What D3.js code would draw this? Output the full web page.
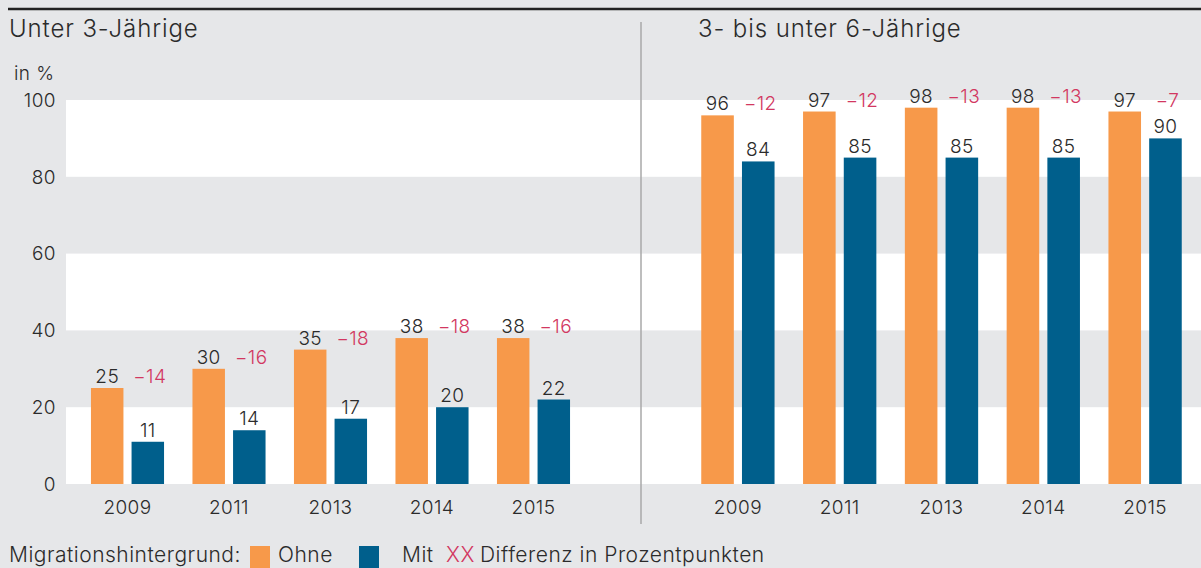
<!DOCTYPE html>
<html>
<head>
<meta charset="utf-8">
<script src="https://cdn.jsdelivr.net/npm/d3@7"></script>
<style>
  body { margin: 0; background: #e6e7e9; }
  svg { display: block; font-family: Inter, "Noto Sans", sans-serif; font-weight: 300; letter-spacing: 0.4px; }
</style>
</head>
<body>
<svg width="1201" height="568"></svg>
<script>
// data
var years = ["2009", "2011", "2013", "2014", "2015"];
var under3Ohne = [25, 30, 35, 38, 38];
var under3Mit = [11, 14, 17, 20, 22];
var under3Diff = [-14, -16, -18, -18, -16];
var over3Ohne = [96, 97, 98, 98, 97];
var over3Mit = [84, 85, 85, 85, 90];
var over3Diff = [-12, -12, -13, -13, -7];
var yTicks = [0, 20, 40, 60, 80, 100];

var orange = "#f7994a", blue = "#005f8c", red = "#d23761", textCol = "#2b2b2b";
var fs = 19;

var svg = d3.select("svg");

var y = d3.scaleLinear().domain([0, 100]).range([484, 100]);

// white bands
svg.selectAll(".band")
  .data([[0, 20], [40, 60], [80, 100]])
  .enter().append("rect")
    .attr("x", 66)
    .attr("width", 1201 - 66)
    .attr("y", d => y(d[1]))
    .attr("height", d => y(d[0]) - y(d[1]))
    .attr("fill", "#fff");

// top rule
svg.append("line")
  .attr("x1", 8).attr("x2", 1201).attr("y1", 9).attr("y2", 9)
  .attr("stroke", "#222").attr("stroke-width", 2.5);

// divider
svg.append("line")
  .attr("x1", 641).attr("x2", 641).attr("y1", 22).attr("y2", 524)
  .attr("stroke", "#a8a8a8").attr("stroke-width", 1.5);

// y tick labels
svg.selectAll(".ytick")
  .data(yTicks)
  .enter().append("text")
    .attr("x", 56)
    .attr("y", d => y(d))
    .attr("dy", "0.36em")
    .attr("text-anchor", "end")
    .attr("font-size", fs)
    .attr("fill", textCol)
    .text(d => d);

svg.append("text")
  .attr("x", 14).attr("y", 80)
  .attr("font-size", fs).attr("fill", textCol)
  .text("in %");

function panel(title, titleX, range, ohne, mit, diff){
  var x = d3.scaleBand().domain(years).range(range).paddingInner(0.28).paddingOuter(0.14);
  var sub = d3.scaleBand().domain(["ohne", "mit"]).range([0, x.bandwidth()]).paddingInner(0.2);

  svg.append("text")
    .attr("x", titleX).attr("y", 37)
    .attr("font-size", 24).attr("letter-spacing", "0.9px").attr("fill", textCol)
    .text(title);

  var rows = years.map((yr, i) => ({year: yr, ohne: ohne[i], mit: mit[i], diff: diff[i]}));

  var grp = svg.append("g").selectAll(".grp")
    .data(rows)
    .enter().append("g")
      .attr("transform", d => `translate(${x(d.year)},0)`);

  grp.append("rect")
    .attr("x", sub("ohne"))
    .attr("width", sub.bandwidth())
    .attr("y", d => y(d.ohne))
    .attr("height", d => y(0) - y(d.ohne))
    .attr("fill", orange);

  grp.append("rect")
    .attr("x", sub("mit"))
    .attr("width", sub.bandwidth())
    .attr("y", d => y(d.mit))
    .attr("height", d => y(0) - y(d.mit))
    .attr("fill", blue);

  grp.append("text")
    .attr("x", sub("ohne") + sub.bandwidth()/2)
    .attr("y", d => y(d.ohne) - 5)
    .attr("text-anchor", "middle")
    .attr("font-size", fs).attr("fill", textCol)
    .text(d => d.ohne);

  grp.append("text")
    .attr("x", sub("mit") + sub.bandwidth()/2)
    .attr("y", d => y(d.mit) - 5)
    .attr("text-anchor", "middle")
    .attr("font-size", fs).attr("fill", textCol)
    .text(d => d.mit);

  grp.append("text")
    .attr("x", sub("mit") + sub.bandwidth()/2 + 2)
    .attr("y", d => y(d.ohne) - 5)
    .attr("text-anchor", "middle")
    .attr("font-size", fs).attr("fill", red)
    .text(d => "\u2212" + Math.abs(d.diff));

  grp.append("text")
    .attr("x", x.bandwidth()/2)
    .attr("y", 514)
    .attr("text-anchor", "middle")
    .attr("font-size", fs).attr("fill", textCol)
    .text(d => d.year);
}

panel("Unter 3-Jährige", 9, [76.75, 584.25], under3Ohne, under3Mit, under3Diff);
panel("3- bis unter 6-Jährige", 698, [687, 1196], over3Ohne, over3Mit, over3Diff);

// legend
var lg = svg.append("g").attr("font-size", 21).attr("letter-spacing", "0.5px").attr("fill", textCol);
lg.append("text").attr("x", 9).attr("y", 562).text("Migrationshintergrund:");
lg.append("rect").attr("x", 250).attr("y", 546).attr("width", 20).attr("height", 22).attr("fill", orange);
lg.append("text").attr("x", 278).attr("y", 562).text("Ohne");
lg.append("rect").attr("x", 359).attr("y", 546).attr("width", 20).attr("height", 22).attr("fill", blue);
lg.append("text").attr("x", 402).attr("y", 562).text("Mit");
lg.append("text").attr("x", 446).attr("y", 562).attr("fill", red).text("XX");
lg.append("text").attr("x", 480).attr("y", 562).text("Differenz in Prozentpunkten");
</script>
</body>
</html>
